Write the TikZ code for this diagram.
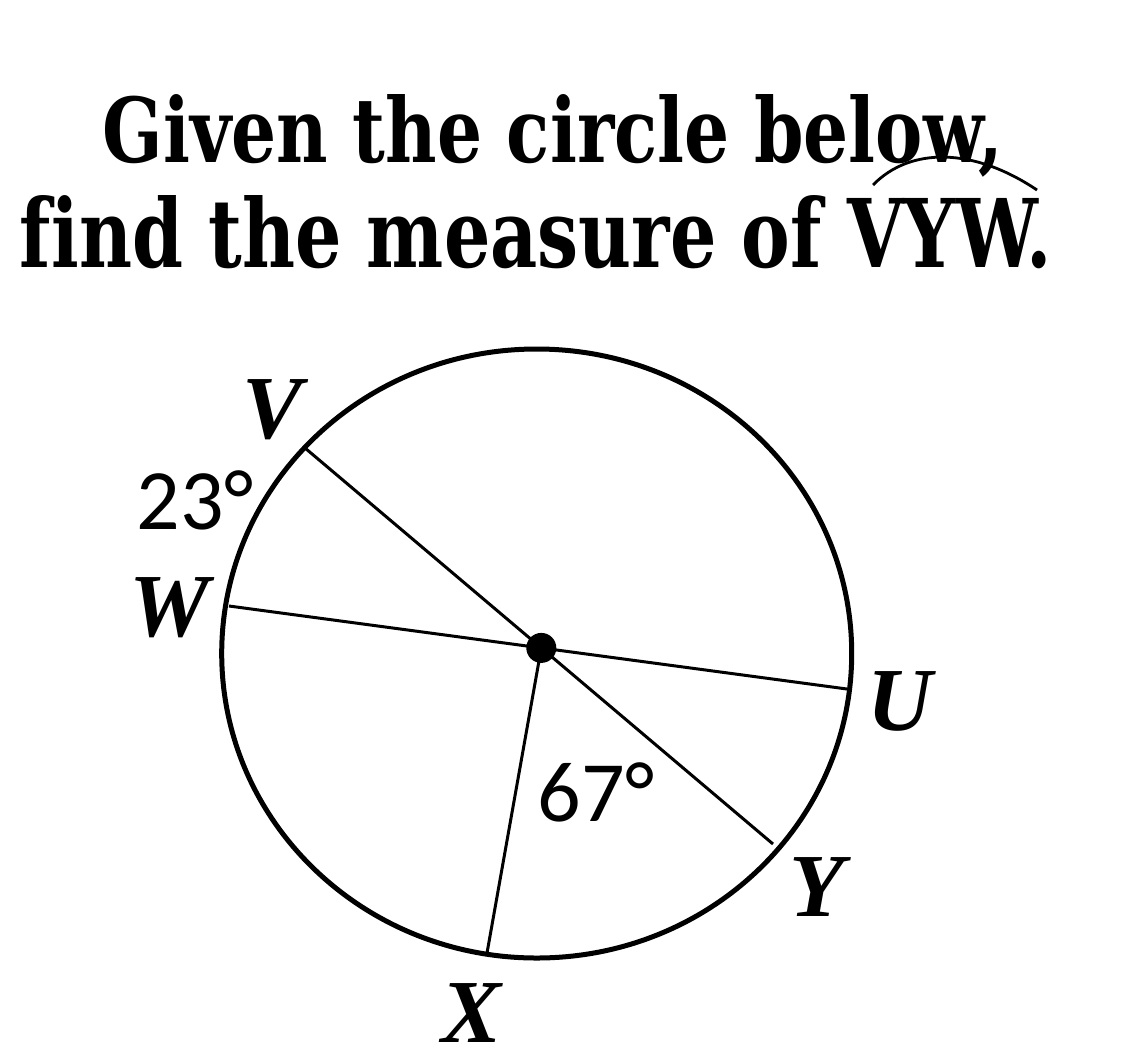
\documentclass[tikz,border=0pt]{standalone}
\usepackage{fontspec}
\setmainfont{Liberation Serif}
\newfontfamily\titlefont{DejaVu Serif}[Ligatures=NoCommon]
\newfontfamily\degfont{Carlito}
\tikzset{
  rim/.style={line width=2.5pt},
  chord/.style={line width=1.5pt},
  ptlabel/.style={inner sep=0pt, font=\fontsize{45}{54}\selectfont\bfseries\itshape},
  deglabel/.style={inner sep=0pt, font=\fontsize{43}{52}\selectfont\degfont},
  titleline/.style={inner sep=0pt, anchor=base, font=\titlefont\bfseries}
}
\begin{document}
\begin{tikzpicture}[x=0.5pt,y=-0.5pt]
	% Page
	\useasboundingbox (0,0) rectangle (1138,1060);
	% Question
	\node[titleline] (line1) at (553,162) {\resizebox{450pt}{34pt}{Given the circle below,}};
	\node[titleline] (line2) at (536,267) {\resizebox{516pt}{36pt}{find the measure of VYW.}};
	\coordinate (arcL) at (873,185);
	\coordinate (arcR) at (1037,190);
	\draw[line width=1.4pt] (arcL) .. controls (910,147) and (973,147) .. (arcR);
	% Circle and centre
	\coordinate (C) at (536.7,653.5);
	\coordinate (O) at (541.3,647.9);
	\draw[rim] (C) ellipse [x radius=157.5pt, y radius=152.25pt];
	% Points on the circle
	\coordinate (V) at (305,448);
	\coordinate (W) at (229,606);
	\coordinate (U) at (847,689);
	\coordinate (Y) at (773,844);
	\coordinate (X) at (487,953);
	% Diameters and radius
	\draw[chord] (V) -- (Y);
	\draw[chord] (W) -- (U);
	\draw[chord] (O) -- (X);
	\fill (O) circle[radius=7.5pt];
	% Labels
	\foreach \n/\px/\py in {V/273/410, W/170/608, U/900/701, Y/817/887, X/472/1013}
		\node[ptlabel] (lab\n) at (\px,\py) {\n};
	\node[deglabel] (degVW) at (195,500) {23°};
	\node[deglabel] (degXY) at (596,792) {67°};
\end{tikzpicture}
\end{document}
